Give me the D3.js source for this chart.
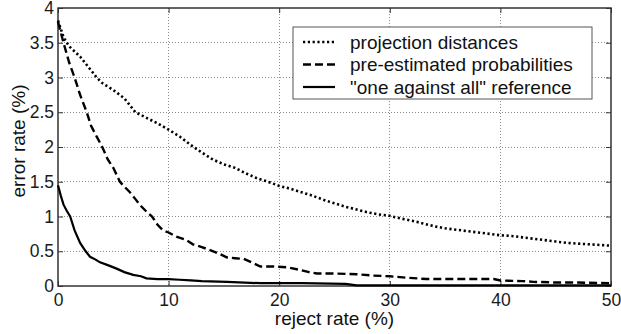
<!DOCTYPE html>
<html>
<head>
<meta charset="utf-8">
<script src="https://d3js.org/d3.v7.min.js"></script>
<style>
  html, body { margin: 0; padding: 0; background: #fff; }
  svg { display: block; font-family: "Liberation Sans", Arial, sans-serif; }
</style>
</head>
<body>
<div id="chart"></div>
<script>
'use strict';

// ─── DATA ────────────────────────────────────────────────────

var xTicks = [0, 10, 20, 30, 40, 50];
var xTickLabels = ['0', '10', '20', '30', '40', '50'];
var yTicks = [0, 0.5, 1, 1.5, 2, 2.5, 3, 3.5, 4];
var yTickLabels = ['0', '0.5', '1', '1.5', '2', '2.5', '3', '3.5', '4'];

var seriesNames = ['projection distances', 'pre-estimated probabilities', '"one against all" reference'];

// [reject rate %, error rate %]
var projectionDistances = [
    [0, 3.82], [0.5, 3.58], [1, 3.45], [2, 3.3], [3, 3.1], [3.5, 3.0], [4, 2.92], [5, 2.82],
    [6, 2.7], [7, 2.5], [8, 2.42], [9, 2.34], [10, 2.25], [11, 2.15], [12, 2.03], [13, 1.92],
    [14, 1.82], [15, 1.75], [16, 1.7], [17, 1.62], [18, 1.55], [19, 1.5], [20, 1.44], [21, 1.4],
    [22, 1.35], [23, 1.3], [24, 1.24], [25, 1.19], [26, 1.14], [27, 1.1], [28, 1.06], [29, 1.03],
    [30, 1.01], [31, 0.97], [32, 0.94], [33, 0.9], [34, 0.86], [35, 0.83], [36, 0.81], [37, 0.79],
    [38, 0.77], [39, 0.75], [40, 0.73], [41, 0.72], [42, 0.7], [43, 0.68], [44, 0.66], [45, 0.64],
    [46, 0.62], [47, 0.61], [48, 0.6], [49, 0.59], [50, 0.58]
];

var preEstimated = [
    [0, 3.8], [0.5, 3.5], [1, 3.22], [1.5, 3.0], [2, 2.75], [2.6, 2.5], [3, 2.3], [3.5, 2.15],
    [4, 2.0], [4.5, 1.82], [5, 1.7], [5.6, 1.5], [6, 1.43], [6.5, 1.35], [7, 1.25], [7.5, 1.15],
    [8, 1.07], [8.5, 1.0], [9, 0.88], [9.5, 0.8], [10, 0.77], [10.7, 0.71], [11.5, 0.67], [12.2, 0.6],
    [13, 0.56], [13.7, 0.52], [14.5, 0.47], [15.3, 0.41], [16, 0.4], [16.8, 0.39], [17.5, 0.34],
    [18.3, 0.28], [19.5, 0.28], [20.7, 0.27], [21.9, 0.23], [22.7, 0.2], [23.4, 0.18], [25, 0.18],
    [27, 0.17], [28.5, 0.15], [30, 0.14], [31.5, 0.12], [33.3, 0.1], [36, 0.1], [39.4, 0.1],
    [40, 0.08], [42, 0.07], [43, 0.06], [45, 0.05], [47, 0.05], [50, 0.04]
];

var oneAgainstAll = [
    [0, 1.45], [0.25, 1.3], [0.5, 1.17], [0.8, 1.08], [1.1, 1.0], [1.5, 0.8], [2, 0.62], [2.5, 0.5],
    [2.9, 0.42], [3.4, 0.38], [3.8, 0.34], [4.5, 0.3], [5.3, 0.25], [6, 0.2], [6.8, 0.16], [7.5, 0.14],
    [8, 0.11], [9, 0.1], [10, 0.1], [11, 0.09], [12, 0.08], [13, 0.07], [15.3, 0.06], [18.3, 0.04],
    [22, 0.04], [26, 0.03], [27, 0.01], [50, 0.01]
];

// ─── LAYOUT ──────────────────────────────────────────────────

var W = 621, H = 334;
var margin = { top: 8, right: 10, bottom: 48, left: 58 };
var iw = W - margin.left - margin.right;
var ih = H - margin.top - margin.bottom;

var x = d3.scaleLinear().domain([0, 50]).range([0, iw]);
var y = d3.scaleLinear().domain([0, 4]).range([ih, 0]);

var svg = d3.select('#chart').append('svg')
    .attr('width', W)
    .attr('height', H);

var g = svg.append('g')
    .attr('transform', 'translate(' + margin.left + ',' + margin.top + ')');

// grid
var grid = g.append('g').attr('class', 'grid');
grid.selectAll('line.gx')
    .data(xTicks.slice(1, -1))
    .enter().append('line')
    .attr('x1', function(d) { return x(d); })
    .attr('x2', function(d) { return x(d); })
    .attr('y1', 0).attr('y2', ih);
grid.selectAll('line.gy')
    .data(yTicks.slice(1, -1))
    .enter().append('line')
    .attr('x1', 0).attr('x2', iw)
    .attr('y1', function(d) { return y(d); })
    .attr('y2', function(d) { return y(d); });
grid.selectAll('line')
    .attr('stroke', '#8a8a8a')
    .attr('stroke-width', 1)
    .attr('stroke-dasharray', '1,2')
    .attr('shape-rendering', 'crispEdges');

// axes (ticks inside, Matlab box style)
function styleAxis(sel) {
    sel.select('.domain').remove();
    sel.selectAll('.tick line').attr('stroke', '#333').attr('stroke-width', 1);
    sel.selectAll('.tick text')
        .attr('fill', '#1a1a1a')
        .style('font-size', '17.5px')
        .style('font-family', '"Liberation Sans", Arial, sans-serif');
}

var xAxis = g.append('g')
    .attr('transform', 'translate(0,' + ih + ')')
    .call(d3.axisBottom(x).tickValues(xTicks)
        .tickFormat(function(d, i) { return xTickLabels[i]; })
        .tickSizeInner(-5).tickPadding(8));
styleAxis(xAxis);

var yAxis = g.append('g')
    .call(d3.axisLeft(y).tickValues(yTicks)
        .tickFormat(function(d, i) { return yTickLabels[i]; })
        .tickSizeInner(-5).tickPadding(4));
styleAxis(yAxis);

var xTop = g.append('g')
    .call(d3.axisTop(x).tickValues(xTicks).tickFormat('').tickSizeInner(-5));
styleAxis(xTop);
var yRight = g.append('g')
    .attr('transform', 'translate(' + iw + ',0)')
    .call(d3.axisRight(y).tickValues(yTicks).tickFormat('').tickSizeInner(-5));
styleAxis(yRight);

// frame
g.append('rect')
    .attr('x', 0).attr('y', 0)
    .attr('width', iw).attr('height', ih)
    .attr('fill', 'none')
    .attr('stroke', '#333')
    .attr('stroke-width', 1.5);

// lines
var line = d3.line()
    .x(function(d) { return x(d[0]); })
    .y(function(d) { return y(d[1]); });

var styles = [
    { data: projectionDistances, dash: '2.2,2.6', width: 2.6 },
    { data: preEstimated, dash: '8,4', width: 2.4 },
    { data: oneAgainstAll, dash: null, width: 2.2 }
];

styles.forEach(function(s) {
    g.append('path')
        .datum(s.data)
        .attr('d', line)
        .attr('fill', 'none')
        .attr('stroke', '#000')
        .attr('stroke-width', s.width)
        .attr('stroke-dasharray', s.dash);
});

// legend
var legend = svg.append('g').attr('transform', 'translate(293,27)');
legend.append('rect')
    .attr('width', 299).attr('height', 72)
    .attr('fill', '#fff')
    .attr('stroke', '#555')
    .attr('stroke-width', 1);

seriesNames.forEach(function(name, i) {
    var cy = 15 + i * 22.5;
    legend.append('line')
        .attr('x1', 10).attr('x2', 42)
        .attr('y1', cy).attr('y2', cy)
        .attr('stroke', '#000')
        .attr('stroke-width', styles[i].width)
        .attr('stroke-dasharray', styles[i].dash);
    legend.append('text')
        .attr('x', 57).attr('y', cy + 6.5)
        .attr('fill', '#111')
        .style('font-size', '19px')
        .text(name);
});

// axis titles
svg.append('text')
    .attr('x', margin.left + iw / 2).attr('y', 325)
    .attr('text-anchor', 'middle')
    .attr('fill', '#111')
    .style('font-size', '19px')
    .text('reject rate (%)');

svg.append('text')
    .attr('transform', 'translate(25,141) rotate(-90)')
    .attr('text-anchor', 'middle')
    .attr('fill', '#111')
    .style('font-size', '19px')
    .text('error rate (%)');
</script>
</body>
</html>
